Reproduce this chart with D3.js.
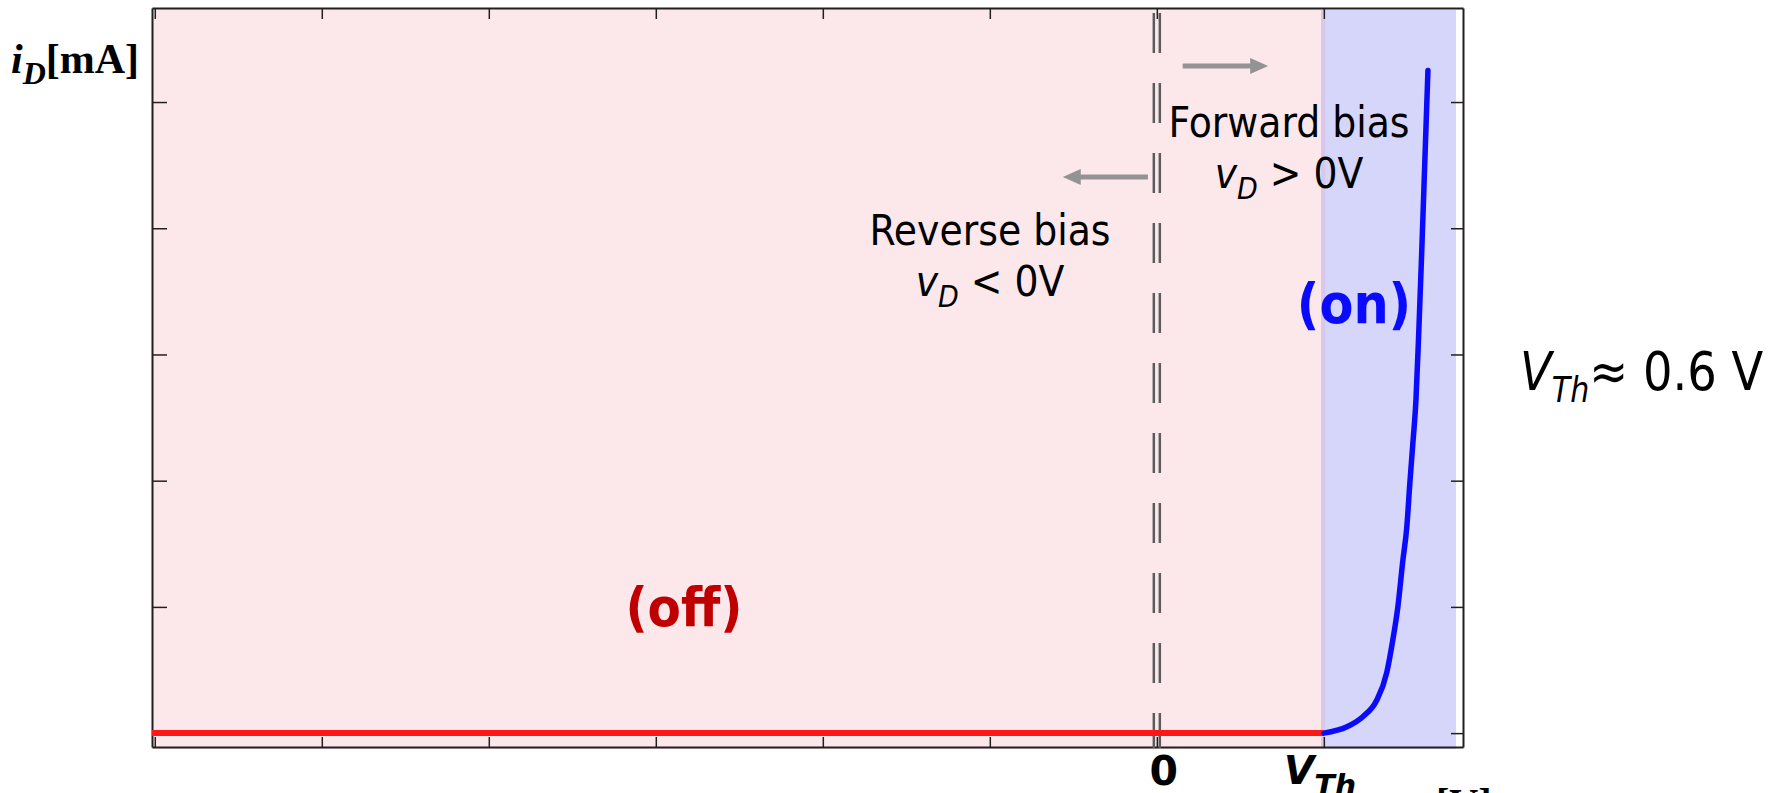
<!DOCTYPE html>
<html>
<head>
<meta charset="utf-8">
<script src="https://cdn.jsdelivr.net/npm/d3@7"></script>
<style>
  html, body { margin: 0; padding: 0; background: #ffffff; }
  svg { display: block; }
  .sans { font-family: "DejaVu Sans", sans-serif; }
  .cond { font-family: "DejaVu Sans Condensed", "DejaVu Sans", sans-serif; font-stretch: condensed; }
  .serif { font-family: "Liberation Serif", "DejaVu Serif", serif; }
</style>
</head>
<body>
<svg id="chart" width="1768" height="793"></svg>
<script>
// Diode i-v characteristic: reverse bias (off) and forward bias (on) regions.
const xTicks = [-3.6, -3.0, -2.4, -1.8, -1.2, -0.6, 0, 0.6];   // volts
const yTicks = [0, 1, 2, 3, 4, 5];                            // mA
const thresholdV = 0.6;

// Off branch: current stays at zero up to the threshold.
const offVoltage = [-3.61, 0.6];
const offCurrent = [0, 0];

// On branch: exponential rise beyond the threshold.
const onVoltage = [0.6, 0.683, 0.740, 0.790, 0.826, 0.848, 0.866, 0.884, 0.898, 0.909, 0.920, 0.931, 0.941, 0.952, 0.963, 0.974];
const onCurrent = [0, 0.05, 0.13, 0.26, 0.48, 0.74, 1.00, 1.37, 1.63, 1.98, 2.30, 2.64, 3.17, 3.83, 4.54, 5.25];

// Shaded regions (volts)
const offRegion = [-3.61, 0.605];
const onRegion = [0.59, 1.075];

const svg = d3.select("#chart");
const plotLeft = 152, plotRight = 1463, plotTop = 8, plotBottom = 747;

const x = d3.scaleLinear().domain([-3.61, 1.1]).range([plotLeft, plotRight]);
const y = d3.scaleLinear().domain([-0.11, 5.745]).range([plotBottom, plotTop]);

// Region fills
svg.append("rect")
  .attr("x", x(offRegion[0])).attr("y", plotTop)
  .attr("width", x(offRegion[1]) - x(offRegion[0])).attr("height", plotBottom - plotTop + 2)
  .attr("fill", "#fce8eb");
svg.append("rect")
  .attr("x", x(onRegion[0])).attr("y", plotTop + 2)
  .attr("width", x(onRegion[1]) - x(onRegion[0])).attr("height", plotBottom - plotTop)
  .attr("fill", "#d6d6fb");
svg.append("rect")
  .attr("x", x(onRegion[0])).attr("y", plotTop + 2)
  .attr("width", x(offRegion[1]) - x(onRegion[0])).attr("height", plotBottom - plotTop)
  .attr("fill", "#d8c8ec");

// Frame and inward ticks
const axisColor = "#231f20";
function styleAxis(g) {
  g.selectAll("path.domain").attr("stroke", axisColor).attr("stroke-width", 2);
  g.selectAll(".tick line").attr("stroke", axisColor).attr("stroke-width", 1.5);
  g.selectAll(".tick text").remove();
}
svg.append("g").attr("transform", `translate(0,${plotTop})`)
  .call(d3.axisTop(x).tickValues(xTicks).tickSize(-11).tickSizeOuter(0).tickFormat(""))
  .call(styleAxis);
svg.append("g").attr("transform", `translate(0,${plotBottom})`)
  .call(d3.axisBottom(x).tickValues(xTicks).tickSize(-10).tickSizeOuter(0).tickFormat(""))
  .call(styleAxis);
svg.append("g").attr("transform", `translate(${plotLeft},0)`)
  .call(d3.axisLeft(y).tickValues(yTicks.slice(1)).tickSize(-15).tickSizeOuter(0).tickFormat(""))
  .call(styleAxis);
svg.append("g").attr("transform", `translate(${plotRight},0)`)
  .call(d3.axisRight(y).tickValues(yTicks).tickSize(-12).tickSizeOuter(0).tickFormat(""))
  .call(styleAxis);

// Double dashed line at v = 0
[-3, 3].forEach(dx => {
  svg.append("line")
    .attr("x1", x(0) + dx).attr("x2", x(0) + dx)
    .attr("y1", plotTop).attr("y2", plotBottom + 1)
    .attr("stroke", "#5c5c5c").attr("stroke-width", 2.5)
    .attr("stroke-dasharray", "40,30").attr("stroke-dashoffset", 65);
});

// Curves
const line = d3.line().x(d => x(d[0])).y(d => y(d[1]));
svg.append("path")
  .datum(offVoltage.map((v, i) => [v, offCurrent[i]]))
  .attr("d", line)
  .attr("fill", "none").attr("stroke", "#ff1616").attr("stroke-width", 6);
svg.append("path")
  .datum(onVoltage.map((v, i) => [v, onCurrent[i]]))
  .attr("d", line.curve(d3.curveMonotoneX))
  .attr("fill", "none").attr("stroke", "#0a0aff").attr("stroke-width", 5.5)
  .attr("stroke-linejoin", "round").attr("stroke-linecap", "round");

// Direction arrows
function arrow(x1, x2, yv) {
  const dir = Math.sign(x2 - x1);
  const px1 = x(x1), px2 = x(x2), py = y(yv);
  const head = 18;
  svg.append("line")
    .attr("x1", px1).attr("x2", px2 - dir * head * 0.8)
    .attr("y1", py).attr("y2", py)
    .attr("stroke", "#939393").attr("stroke-width", 5);
  svg.append("path")
    .attr("d", `M${px2},${py} L${px2 - dir * head},${py - 8} L${px2 - dir * head},${py + 8} Z`)
    .attr("fill", "#939393");
}
arrow(0.093, 0.40, 5.285);
arrow(-0.032, -0.338, 4.406);

// Annotations
function biasLabel(cx, yTitle, title, op) {
  svg.append("text").attr("class", "cond")
    .attr("x", cx).attr("y", yTitle).attr("text-anchor", "middle")
    .attr("font-size", 42).attr("fill", "#000").text(title);
  const t = svg.append("text").attr("class", "cond")
    .attr("x", cx).attr("y", yTitle + 51).attr("text-anchor", "middle")
    .attr("font-size", 42).attr("fill", "#000");
  t.append("tspan").attr("font-style", "italic").text("v");
  t.append("tspan").attr("font-style", "italic").attr("font-size", 30).attr("dy", 11).text("D");
  t.append("tspan").attr("dy", -11).text(op + " 0V");
}
biasLabel(1289, 137, "Forward bias", " >");
biasLabel(990, 245, "Reverse bias", " <");

svg.append("text").attr("class", "cond")
  .attr("x", 1354).attr("y", 323).attr("text-anchor", "middle")
  .attr("font-size", 55).attr("font-weight", "bold").attr("fill", "#0a0aff").text("(on)");
svg.append("text").attr("class", "cond")
  .attr("x", 684).attr("y", 626).attr("text-anchor", "middle")
  .attr("font-size", 54).attr("font-weight", "bold").attr("fill", "#c00000").text("(off)");

// Threshold note
const vt = svg.append("g").attr("transform", "translate(1520,390) scale(0.86,1)")
  .append("text").attr("class", "sans")
  .attr("x", 0).attr("y", 0).attr("font-size", 54).attr("fill", "#000");
vt.append("tspan").attr("font-style", "italic").text("V");
vt.append("tspan").attr("font-style", "italic").attr("font-size", 35).attr("dy", 12).text("Th");
vt.append("tspan").attr("dy", -12).text("≈ 0.6 V");

// Axis labels
const yl = svg.append("text").attr("class", "serif")
  .attr("x", 11).attr("y", 73).attr("font-size", 42).attr("font-weight", "bold").attr("fill", "#000");
yl.append("tspan").attr("font-style", "italic").text("i");
yl.append("tspan").attr("font-style", "italic").attr("font-size", 32).attr("dy", 11).text("D");
yl.append("tspan").attr("dy", -11).text("[mA]");

svg.append("text").attr("class", "sans")
  .attr("x", x(0) + 7).attr("y", 785).attr("text-anchor", "middle")
  .attr("font-size", 41).attr("font-weight", "bold").attr("fill", "#000").text("0");
const vth = svg.append("text").attr("class", "sans")
  .attr("x", 1284).attr("y", 784).attr("font-size", 39)
  .attr("font-weight", "bold").attr("font-style", "italic").attr("fill", "#000");
vth.append("tspan").text("V");
vth.append("tspan").attr("font-size", 30).attr("dy", 12).text("Th");

svg.append("text").attr("class", "serif")
  .attr("x", 1436).attr("y", 816).attr("font-size", 40).attr("font-weight", "bold").attr("fill", "#000").text("[V]");
</script>
</body>
</html>
